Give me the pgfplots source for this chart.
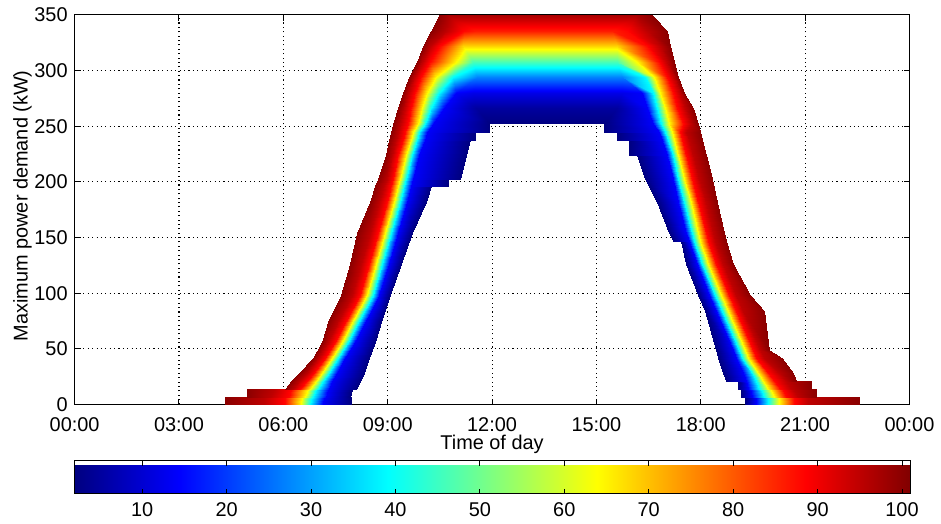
\documentclass[border=0pt]{standalone}
\usepackage{fontspec}
\setmainfont{Liberation Sans}
\usepackage{pgfplots}
\pgfplotsset{compat=1.18}
\usetikzlibrary{calc}
\pgfplotsset{layers/mylayers/.define layer set={axis background,axis grid,pre main,main,axis ticks,axis lines,axis tick labels,axis descriptions,axis foreground}{}}
\begin{document}
\begin{tikzpicture}
\path (-37.5pt,-56.75pt) rectangle (433pt,203.25pt);
\begin{axis}[
  set layers=mylayers,
  at={(0pt,0pt)}, anchor=south west,
  scale only axis, width=419.5pt, height=195.75pt,
  xmin=0, xmax=24, ymin=0, ymax=350,
  xtick={0,3,...,24},
  xticklabels={00:00,03:00,06:00,09:00,12:00,15:00,18:00,21:00,00:00},
  ytick={0,50,...,350},
  tick align=inside, xtick pos=both, ytick pos=both,
  major tick length=3pt,
  grid=major,
  grid style={black, line width=0.55pt, dash pattern=on 0.55pt off 1.65pt},
  axis line style={line width=0.5pt},
  every tick/.style={black, line width=0.5pt},
  tick label style={font=\fontsize{10}{12}\selectfont},
  xticklabel style={yshift=-3pt},
  /pgf/number format/assume math mode=true,
  xlabel={Time of day},
  ylabel={Maximum power demand (kW)},
  xlabel style={at={(axis description cs:0.5,-0.1035)}, anchor=center, font=\fontsize{10}{12}\selectfont},
  ylabel style={at={(axis description cs:-0.0626,0.51)}, anchor=center, font=\fontsize{10}{12}\selectfont},
  colormap/jet,
  point meta min=2, point meta max=101,
  colorbar horizontal,
  colorbar style={
    at={(parent axis.south west)}, anchor=north west, yshift=-19.75pt,
    scale only axis, width=420pt, height=16.5pt,
    axis on top,
    xtick={10,20,...,100},
    xticklabel pos=lower,
    xtick pos=both,
    xmajorticks=true,
    tick align=inside, major tick length=2.5pt,
    xtick style={draw=black, line width=0.5pt},
    axis line style={line width=0.5pt},
    tick label style={font=\fontsize{10}{12}\selectfont},
    xticklabel style={yshift=-1pt},
    /pgf/number format/assume math mode=true,
  },
]
% left flank (below 252 kW)
\addplot[surf, shader=interp, mesh/cols=7, point meta=explicit] coordinates {
(4.32,0)[100] (5.43,0)[95] (6.06,0)[88] (6.52,0)[64] (6.78,0)[39] (7.15,0)[14] (7.95,0)[2]
(4.32,7)[100] (5.43,7)[95] (6.06,7)[88] (6.55,7)[64] (6.81,7)[39] (7.18,7)[14] (7.95,7)[2]
(4.95,7)[100] (5.63,7)[95] (6.15,7)[88] (6.61,7)[64] (6.86,7)[39] (7.24,7)[14] (7.92,7)[2]
(4.95,14)[100] (5.72,14)[95] (6.21,14)[88] (6.72,14)[64] (6.95,14)[39] (7.29,14)[14] (7.98,14)[2]
(6.06,14)[100] (6.29,14)[95] (6.49,14)[88] (6.78,14)[64] (7.01,14)[39] (7.32,14)[14] (8.10,14)[2]
(6.21,21)[100] (6.46,21)[95] (6.69,21)[88] (6.95,21)[64] (7.15,21)[39] (7.41,21)[14] (8.21,21)[2]
(6.44,28)[100] (6.69,28)[95] (6.89,28)[88] (7.12,28)[64] (7.32,28)[39] (7.55,28)[14] (8.32,28)[2]
(6.84,42)[100] (7.01,42)[95] (7.21,42)[88] (7.41,42)[64] (7.58,42)[39] (7.78,42)[14] (8.47,42)[2]
(7.12,56)[100] (7.29,56)[95] (7.49,56)[88] (7.69,56)[64] (7.87,56)[39] (8.07,56)[14] (8.64,56)[2]
(7.32,77)[100] (7.61,77)[95] (7.84,77)[88] (8.04,77)[64] (8.21,77)[39] (8.41,77)[14] (8.84,77)[2]
(7.67,98)[100] (7.98,98)[95] (8.21,98)[88] (8.41,98)[64] (8.58,98)[39] (8.75,98)[14] (9.07,98)[2]
(7.92,126)[100] (8.24,126)[95] (8.47,126)[88] (8.67,126)[64] (8.84,126)[39] (9.04,126)[14] (9.38,126)[2]
(8.12,154)[100] (8.50,154)[95] (8.72,154)[88] (8.92,154)[64] (9.10,154)[39] (9.30,154)[14] (9.70,154)[2]
(8.50,182)[100] (8.75,182)[95] (8.98,182)[88] (9.18,182)[64] (9.35,182)[39] (9.55,182)[14] (10.10,182)[2]
(8.64,196)[100] (8.90,196)[95] (9.10,196)[88] (9.30,196)[64] (9.47,196)[39] (9.67,196)[14] (10.24,196)[2]
(8.64,196)[100] (8.90,196)[95] (9.10,196)[88] (9.30,196)[64] (9.47,196)[39] (9.67,196)[14] (10.73,196)[2]
(8.72,203)[100] (8.98,203)[95] (9.15,203)[88] (9.35,203)[64] (9.53,203)[39] (9.73,203)[14] (10.73,203)[2]
(8.72,203)[100] (8.98,203)[95] (9.15,203)[88] (9.35,203)[64] (9.53,203)[39] (9.73,203)[14] (11.07,203)[2]
(8.95,224)[100] (9.12,224)[95] (9.30,224)[88] (9.53,224)[64] (9.70,224)[39] (9.90,224)[14] (11.24,224)[2]
(9.04,238)[100] (9.24,238)[95] (9.44,238)[88] (9.67,238)[64] (9.84,238)[39] (10.07,238)[14] (11.36,238)[2]
(9.04,238)[100] (9.24,238)[95] (9.44,238)[88] (9.67,238)[64] (9.84,238)[39] (10.07,238)[14] (11.50,238)[2]
(9.10,245)[100] (9.30,245)[95] (9.50,245)[88] (9.73,245)[64] (9.90,245)[39] (10.13,245)[14] (11.50,245)[2]
(9.10,245)[100] (9.30,245)[95] (9.50,245)[88] (9.73,245)[64] (9.90,245)[39] (10.13,245)[14] (11.93,245)[2]
(9.15,252)[100] (9.35,252)[95] (9.58,252)[88] (9.87,252)[64] (10.07,252)[39] (10.30,252)[14] (11.93,252)[2]
};
% right flank (below 252 kW)
\addplot[surf, shader=interp, mesh/cols=7, point meta=explicit] coordinates {
(19.28,0)[2] (19.59,0)[14] (19.94,0)[39] (20.25,0)[64] (20.68,0)[88] (21.08,0)[95] (22.57,0)[100]
(19.28,7)[2] (19.59,7)[14] (19.94,7)[39] (20.25,7)[64] (20.68,7)[88] (21.08,7)[95] (22.57,7)[100]
(19.16,7)[2] (19.48,7)[14] (19.82,7)[39] (20.11,7)[64] (20.45,7)[88] (20.80,7)[95] (21.31,7)[100]
(19.16,14)[2] (19.42,14)[14] (19.74,14)[39] (19.99,14)[64] (20.34,14)[88] (20.65,14)[95] (21.31,14)[100]
(19.08,14)[2] (19.37,14)[14] (19.68,14)[39] (19.94,14)[64] (20.28,14)[88] (20.59,14)[95] (21.17,14)[100]
(19.08,21)[2] (19.31,21)[14] (19.59,21)[39] (19.79,21)[64] (20.11,21)[88] (20.45,21)[95] (21.17,21)[100]
(18.74,21)[2] (19.31,21)[14] (19.59,21)[39] (19.79,21)[64] (20.11,21)[88] (20.45,21)[95] (20.74,21)[100]
(18.65,28)[2] (19.22,28)[14] (19.48,28)[39] (19.65,28)[64] (19.94,28)[88] (20.25,28)[95] (20.65,28)[100]
(18.51,42)[2] (19.02,42)[14] (19.19,42)[39] (19.37,42)[64] (19.59,42)[88] (19.82,42)[95] (20.34,42)[100]
(18.45,49)[2] (18.94,49)[14] (19.11,49)[39] (19.28,49)[64] (19.51,49)[88] (19.71,49)[95] (19.95,49)[100]
(18.11,84)[2] (18.45,84)[14] (18.62,84)[39] (18.79,84)[64] (19.02,84)[88] (19.22,84)[95] (19.82,84)[100]
(17.93,98)[2] (18.25,98)[14] (18.42,98)[39] (18.59,98)[64] (18.82,98)[88] (19.02,98)[95] (19.42,98)[100]
(17.59,126)[2] (17.88,126)[14] (18.05,126)[39] (18.22,126)[64] (18.45,126)[88] (18.65,126)[95] (18.94,126)[100]
(17.42,147)[2] (17.65,147)[14] (17.82,147)[39] (17.99,147)[64] (18.22,147)[88] (18.42,147)[95] (18.74,147)[100]
(17.19,147)[2] (17.65,147)[14] (17.82,147)[39] (17.99,147)[64] (18.22,147)[88] (18.42,147)[95] (18.74,147)[100]
(17.08,154)[2] (17.59,154)[14] (17.76,154)[39] (17.93,154)[64] (18.16,154)[88] (18.36,154)[95] (18.68,154)[100]
(16.73,182)[2] (17.36,182)[14] (17.53,182)[39] (17.71,182)[64] (17.93,182)[88] (18.14,182)[95] (18.48,182)[100]
(16.39,203)[2] (17.19,203)[14] (17.36,203)[39] (17.53,203)[64] (17.76,203)[88] (17.96,203)[95] (18.31,203)[100]
(16.16,224)[2] (17.02,224)[14] (17.19,224)[39] (17.36,224)[64] (17.59,224)[88] (17.79,224)[95] (18.16,224)[100]
(15.93,224)[2] (17.02,224)[14] (17.19,224)[39] (17.36,224)[64] (17.59,224)[88] (17.79,224)[95] (18.16,224)[100]
(15.93,238)[2] (16.88,238)[14] (17.05,238)[39] (17.22,238)[64] (17.45,238)[88] (17.65,238)[95] (18.05,238)[100]
(15.59,238)[2] (16.88,238)[14] (17.05,238)[39] (17.22,238)[64] (17.45,238)[88] (17.65,238)[95] (18.05,238)[100]
(15.59,245)[2] (16.79,245)[14] (16.96,245)[39] (17.16,245)[64] (17.39,245)[88] (17.59,245)[95] (17.99,245)[100]
(15.22,245)[2] (16.79,245)[14] (16.96,245)[39] (17.16,245)[64] (17.39,245)[88] (17.59,245)[95] (17.99,245)[100]
(15.22,252)[2] (16.62,252)[14] (16.85,252)[39] (17.08,252)[64] (17.48,252)[88] (17.71,252)[95] (17.93,252)[100]
};
% top cap (252 to 350 kW)
\addplot[surf, shader=interp, mesh/cols=14, point meta=explicit] coordinates {
(9.15,252)[100] (9.35,252)[95] (9.58,252)[88] (9.87,252)[64] (10.07,252)[39] (10.30,252)[14] (11.93,252)[2] (15.22,252)[2] (16.62,252)[14] (16.85,252)[39] (17.08,252)[64] (17.48,252)[88] (17.71,252)[95] (17.93,252)[100]
(9.30,266)[100] (9.47,266)[95] (9.67,266)[88] (9.98,266)[64] (10.24,266)[39] (10.61,266)[14] (11.53,266)[5] (15.59,266)[5] (16.45,266)[14] (16.73,266)[39] (16.96,266)[64] (17.33,266)[88] (17.56,266)[95] (17.79,266)[100]
(9.44,280)[100] (9.58,280)[95] (9.78,280)[88] (10.13,280)[64] (10.47,280)[39] (10.96,280)[14] (11.44,280)[12] (15.73,280)[12] (16.30,280)[14] (16.62,280)[39] (16.82,280)[64] (17.19,280)[88] (17.39,280)[95] (17.53,280)[100]
(9.61,294)[100] (9.75,294)[95] (9.95,294)[88] (10.38,294)[64] (10.87,294)[39] (11.58,294)[27] (11.58,294)[27] (15.73,294)[27] (15.73,294)[27] (16.39,294)[39] (16.65,294)[64] (17.02,294)[88] (17.22,294)[95] (17.36,294)[100]
(9.84,308)[100] (9.98,308)[95] (10.21,308)[88] (10.96,308)[64] (11.44,308)[46] (11.44,308)[46] (11.44,308)[46] (15.59,308)[46] (15.59,308)[46] (15.59,308)[46] (16.16,308)[64] (16.79,308)[88] (17.02,308)[95] (17.22,308)[100]
(10.01,322)[100] (10.21,322)[95] (10.50,322)[88] (11.16,322)[68] (11.16,322)[68] (11.16,322)[68] (11.16,322)[68] (15.59,322)[68] (15.59,322)[68] (15.59,322)[68] (15.59,322)[68] (16.45,322)[88] (16.82,322)[95] (17.11,322)[100]
(10.24,336)[100] (10.67,336)[95] (11.18,336)[88] (11.53,336)[86] (11.53,336)[86] (11.53,336)[86] (11.53,336)[86] (15.45,336)[86] (15.45,336)[86] (15.45,336)[86] (15.45,336)[86] (15.88,336)[88] (16.45,336)[95] (17.02,336)[100]
(10.47,350)[100] (10.73,350)[97] (10.73,350)[97] (10.73,350)[97] (10.73,350)[97] (10.73,350)[97] (10.73,350)[97] (16.16,350)[97] (16.16,350)[97] (16.16,350)[97] (16.16,350)[97] (16.16,350)[97] (16.16,350)[97] (16.59,350)[100]
};
\end{axis}
\end{tikzpicture}
\end{document}
